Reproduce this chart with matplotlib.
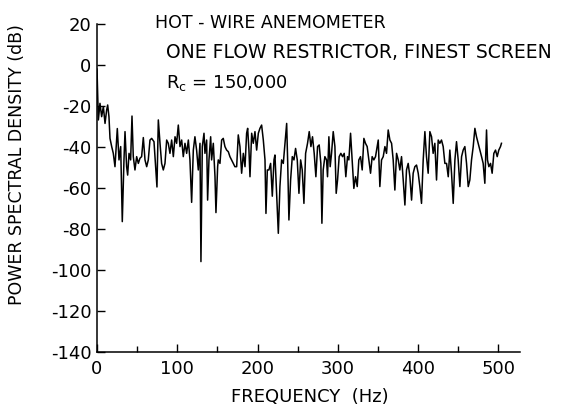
import matplotlib
matplotlib.use("Agg")
import matplotlib.pyplot as plt
from matplotlib.ticker import FixedLocator, FixedFormatter

freq_hz = [
    0, 1.7, 3.7, 5.8, 7.9, 10.0, 12.0, 13.3, 14.9, 16.2, 18.3, 20.3, 22.4, 25.3, 27.4, 29.5,
    31.5, 33.6, 34.9, 36.9, 38.2, 39.9, 41.9, 43.6, 45.2, 47.3, 49.4, 51.5, 53.5, 55.6, 57.7,
    59.8, 61.9, 63.9, 66.0, 68.1, 71.0, 73.1, 74.7, 76.4, 78.5, 80.5, 82.6, 84.7, 86.8,
    88.8, 90.9, 93.0, 95.1, 97.2, 99.2, 101.3, 103.4, 105.5, 107.5, 109.6, 111.7, 113.8,
    115.8, 117.9, 120.0, 122.0, 124.1, 126.2, 128.3, 129.5, 131.2, 133.3, 134.5, 136.6,
    137.8, 139.5, 141.6, 142.8, 144.9, 147.0, 148.2, 150.3, 151.1, 153.2, 155.3, 157.3,
    159.4, 161.5, 163.6, 165.6, 167.7, 169.8, 171.8,
    174.0, 176.0, 178.1, 180.2, 182.3, 184.4, 186.4, 187.7, 189.3, 190.6, 192.7, 194.7,
    196.8, 198.9, 201.0, 203.0, 205.1, 207.2, 209.3, 210.5, 212.2, 214.2, 216.3, 218.4,
    220.5, 221.7, 223.8, 225.9, 227.9, 230.0, 232.1, 234.2, 236.3, 237.5, 239.1, 241.2,
    243.3, 245.4, 247.4, 249.5, 251.6, 253.7, 255.7, 257.8, 259.9,
    262.3, 264.4, 266.5, 268.5, 270.6, 272.7, 274.8, 276.8, 278.9, 280.2, 281.8, 283.9,
    286.0, 287.2, 288.9, 290.5, 292.2, 294.3, 296.4, 298.0, 299.7, 301.7, 303.8, 305.9,
    308.0, 310.0, 312.1, 313.8, 315.9, 317.9, 320.0, 322.1, 324.2, 326.2, 328.3, 330.4,
    332.5, 334.5, 336.6, 338.7, 340.8, 342.8, 344.9, 347.0,
    348.3, 350.4, 352.4, 354.5, 356.6, 358.7, 360.7, 362.8, 364.9, 367.0, 369.0, 371.1,
    373.2, 375.3, 377.3, 379.4, 381.5, 383.6, 385.6, 387.7, 389.8, 391.9, 393.9, 396.0,
    398.1, 400.2, 402.2, 404.3, 406.4, 408.5, 410.5, 412.6, 414.7, 416.8, 418.8, 420.9,
    423.0, 425.1, 427.1, 429.2, 431.3, 433.4,
    435.5, 437.6, 439.6, 441.7, 443.8, 445.9, 447.9, 450.0, 452.1, 454.2, 456.2, 458.3,
    460.4, 462.5, 464.5, 466.6, 468.7, 470.8, 472.8, 474.9, 477.0, 479.1, 481.1, 483.2,
    485.3, 486.5, 488.2, 490.3, 492.3, 494.4, 496.5, 498.6, 500.6, 502.7, 503.9,
]

psd_db = [
    -2, -26.8, -18.7, -25.2, -20.3, -28.5, -22.0, -19.5, -25.2, -35.8, -39.8, -43.1, -49.6,
    -31.0, -46.3, -39.8, -76.4, -46.3, -32.5, -49.6, -53.7, -43.1, -46.3, -24.9, -44.7,
    -51.2, -44.7, -48.0, -45.5, -44.7, -35.4, -46.3, -49.6, -46.3, -36.6, -35.8, -37.4,
    -49.6, -59.5, -26.8, -38.2, -48.0, -51.2, -48.0, -36.6,
    -38.2, -43.1, -36.6, -44.7, -35.0, -38.2, -29.3, -39.8, -36.6, -44.7, -38.2, -43.1,
    -36.6, -46.3, -67.0, -41.5, -35.0, -41.5, -51.2, -38.2, -95.9, -39.8, -33.3, -43.1,
    -36.6, -65.9, -46.3, -35.0, -46.3, -38.2, -54.5, -72.0, -49.6, -46.3, -48.0, -36.6,
    -35.8, -39.8, -41.5, -42.3, -44.7, -46.3, -48.0, -49.6,
    -49.6, -34.1, -39.8, -52.8, -43.1, -49.6, -33.3, -30.9, -41.5, -54.5, -33.3, -38.2,
    -32.5, -41.5, -33.3, -30.9, -29.3, -36.6, -46.3, -72.4, -51.2, -51.2, -48.0, -64.0,
    -46.3, -43.9, -62.6, -82.1, -59.3, -46.3, -48.0, -38.2, -28.5, -46.3, -75.6, -56.1,
    -44.7, -46.3, -40.7, -46.3, -62.6, -46.3, -51.2, -67.5, -43.1,
    -38.2, -32.5, -39.8, -35.0, -43.1, -54.5, -39.8, -39.0, -48.0, -77.2, -51.2, -44.7,
    -46.3, -54.5, -35.0, -49.6, -43.1, -32.5, -39.8, -62.6, -56.1, -44.7, -43.1, -44.7,
    -43.1, -54.5, -44.7, -46.3, -33.3, -46.3, -60.2, -54.5, -59.3, -46.3, -44.7, -51.2,
    -35.8, -38.2, -39.8, -46.3, -52.8, -44.7, -46.3, -44.7,
    -41.5, -36.6, -59.3, -46.3, -44.7, -39.8, -43.1, -31.7, -36.6, -38.2, -46.3, -61.0,
    -43.1, -46.3, -51.2, -44.7, -56.1, -68.3, -51.2, -48.0, -54.5, -65.9, -52.8, -49.6,
    -48.8, -52.8, -59.3, -67.5, -46.3, -32.5, -44.7, -52.8, -32.5, -35.0, -43.1, -38.2,
    -56.1, -36.6, -38.2, -36.6, -39.8, -48.0,
    -48.0, -54.5, -41.5, -52.8, -67.5, -46.3, -37.4, -46.3, -59.3, -44.7, -41.5, -39.8,
    -48.0, -59.3, -56.1, -46.3, -39.8, -30.9, -35.0, -38.2, -41.5, -44.7, -48.0, -57.7,
    -31.7, -46.3, -49.6, -48.0, -52.8, -43.1, -41.5, -44.7, -41.5, -39.8, -38.2,
]

x_ticks = [0, 100, 200, 300, 400, 500]
x_minor_ticks = [50, 150, 250, 350, 450]
y_ticks = [-140, -120, -100, -80, -60, -40, -20, 0, 20]
y_tick_labels = ["-140", "-120", "-100", "-80", "-60", "-40", "-20", "0", "20"]

title_lines = ["HOT - WIRE ANEMOMETER", "ONE FLOW RESTRICTOR, FINEST SCREEN", r"R$_\mathregular{c}$ = 150,000"]
x_label = "FREQUENCY  (Hz)"
y_label = "POWER SPECTRAL DENSITY (dB)"

plt.rcParams["font.family"] = ["DejaVu Sans"]
fig = plt.figure(figsize=(5.7, 4.09), dpi=100)
W, H = 570, 409
ax = fig.add_axes([97 / W, 1 - 352 / H, (520 - 97) / W, (352 - 24) / H])

ax.plot(freq_hz, psd_db, color="black", lw=1.1)
ax.set_xlim(0, 527)
ax.set_ylim(-140, 20)

for s in ["top", "right"]:
    ax.spines[s].set_visible(False)
for s in ["left", "bottom"]:
    ax.spines[s].set_linewidth(1.1)

ax.xaxis.set_major_locator(FixedLocator(x_ticks))
ax.xaxis.set_minor_locator(FixedLocator(x_minor_ticks))
ax.yaxis.set_major_locator(FixedLocator(y_ticks))
ax.yaxis.set_major_formatter(FixedFormatter(y_tick_labels))
ax.tick_params(axis="both", which="major", direction="in", length=6, width=1.0,
               labelsize=13, pad=4)
ax.tick_params(axis="x", which="minor", direction="in", length=4, width=1.0)
ax.tick_params(axis="x", which="major", pad=6)

fig.text(155 / W, 1 - 23 / H, title_lines[0], fontsize=12.5, va="center", ha="left")
fig.text(166 / W, 1 - 53 / H, title_lines[1], fontsize=13.5, va="center", ha="left")
fig.text(166 / W, 1 - 83 / H, title_lines[2], fontsize=13, va="center", ha="left")

fig.text(310 / W, 1 - 397 / H, x_label, fontsize=13, ha="center", va="center")
fig.text(17 / W, 1 - 165 / H, y_label, fontsize=12.5, ha="center", va="center", rotation=90)

fig.savefig("out.png", dpi=100)
